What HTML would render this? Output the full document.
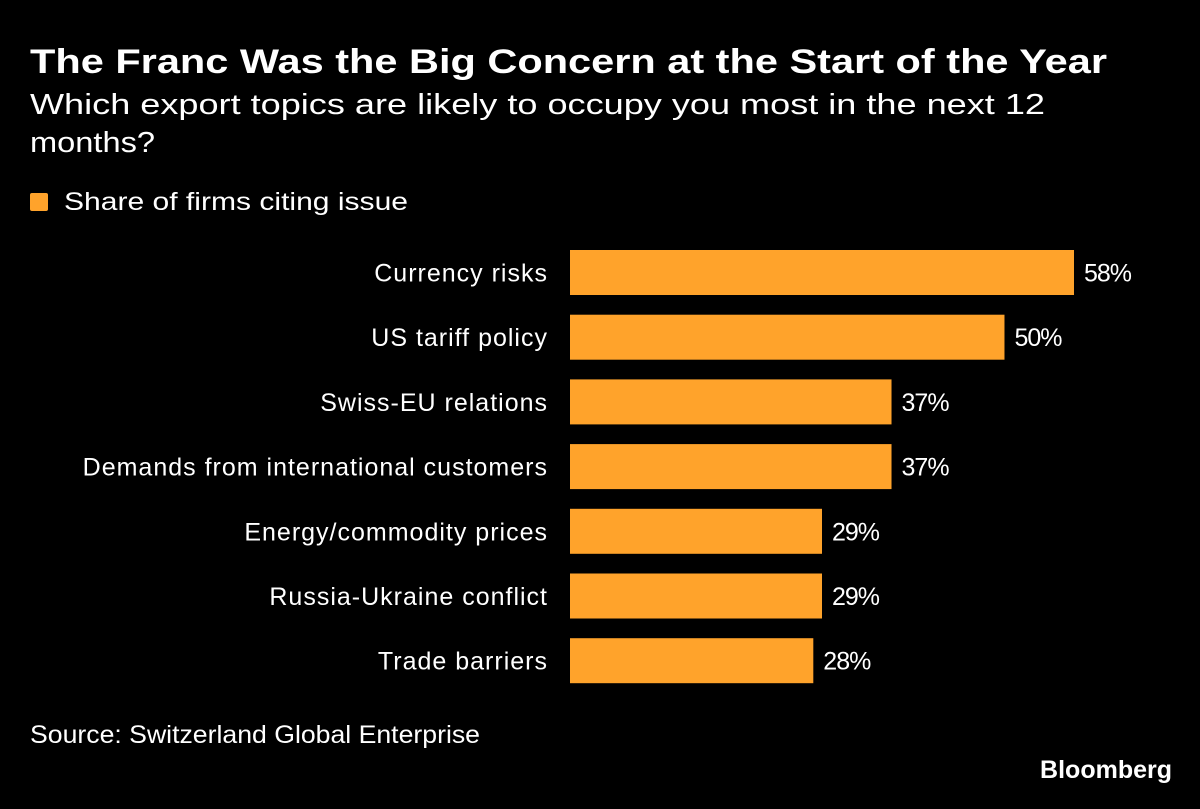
<!DOCTYPE html>
<html><head><meta charset="utf-8"><style>
html,body{margin:0;padding:0;background:#000;}
svg{display:block;font-family:"Liberation Sans",sans-serif;}
</style></head><body>
<svg id="chart" width="1200" height="809" viewBox="0 0 1200 809">
<rect width="1200" height="809" fill="#000"/>
<text x="30" y="73" fill="#fff" font-size="34" font-weight="bold" textLength="1077" lengthAdjust="spacingAndGlyphs">The Franc Was the Big Concern at the Start of the Year</text>
<text x="30" y="114" fill="#fff" font-size="29" textLength="1015" lengthAdjust="spacingAndGlyphs">Which export topics are likely to occupy you most in the next 12</text>
<text x="30" y="152" fill="#fff" font-size="29" textLength="125" lengthAdjust="spacingAndGlyphs">months?</text>
<rect x="30" y="193" width="18" height="18" rx="2" fill="#ffa32b"/>
<text x="64" y="210" fill="#fff" font-size="25" textLength="344" lengthAdjust="spacingAndGlyphs">Share of firms citing issue</text>
<g id="bars"></g>
<text x="30" y="743" fill="#fff" font-size="25" textLength="450" lengthAdjust="spacingAndGlyphs">Source: Switzerland Global Enterprise</text>
<text x="1172" y="778" fill="#fff" font-size="25" font-weight="bold" text-anchor="end">Bloomberg</text>
</svg>
<script>
const categories = ["Currency risks","US tariff policy","Swiss-EU relations","Demands from international customers","Energy/commodity prices","Russia-Ukraine conflict","Trade barriers"];
const values = [58,50,37,37,29,29,28];
const valueLabels = ["58%","50%","37%","37%","29%","29%","28%"];

const x0 = 570, pxPerUnit = 504/58;
const xScale = v => x0 + v * pxPerUnit;
const yTop = 250, pitch = 64.7, barH = 45;
const yScale = i => yTop + i * pitch;
const NS = "http://www.w3.org/2000/svg";
const g = document.getElementById("bars");
categories.forEach((c, i) => {
  const y = yScale(i);
  const r = document.createElementNS(NS, "rect");
  r.setAttribute("x", x0);
  r.setAttribute("y", y);
  r.setAttribute("width", xScale(values[i]) - x0);
  r.setAttribute("height", barH);
  r.setAttribute("fill", "#ffa32b");
  
  
  g.appendChild(r);
  const t = document.createElementNS(NS, "text");
  t.setAttribute("x", 548);
  t.setAttribute("y", y + barH/2 + 9);
  t.setAttribute("fill", "#fff");
  t.setAttribute("font-size", "25");
  t.setAttribute("letter-spacing", "1");
  t.setAttribute("text-anchor", "end");
  t.textContent = c;
  
  
  g.appendChild(t);
  const v = document.createElementNS(NS, "text");
  v.setAttribute("x", xScale(values[i]) + 10);
  v.setAttribute("y", y + barH/2 + 9);
  v.setAttribute("fill", "#fff");
  v.setAttribute("font-size", "25");
  v.setAttribute("letter-spacing", "-1");
  v.textContent = valueLabels[i];
  
  
  g.appendChild(v);
});
</script>
</body></html>
